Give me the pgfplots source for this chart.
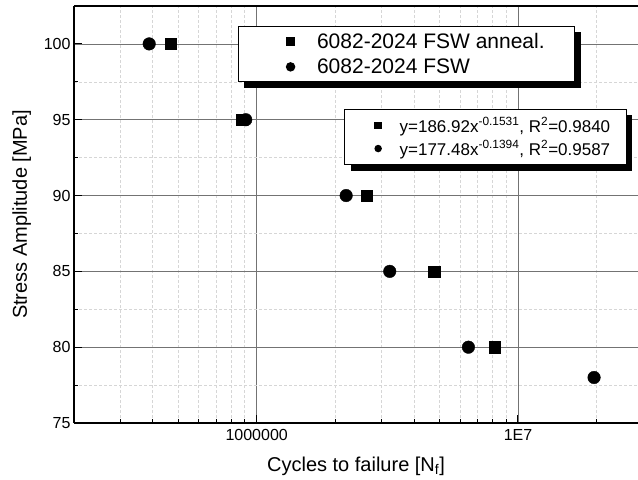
\documentclass[border=0pt]{standalone}
\usepackage{fontspec}
\setmainfont{Liberation Sans}
\usepackage{pgfplots}
\pgfplotsset{compat=1.18}
\usetikzlibrary{shadows}

\pgfplotsset{
  legshadow/.style={drop shadow={shadow xshift=6bp, shadow yshift=-6bp, fill=black, opacity=1}},
}

\begin{document}
\begin{tikzpicture}
\begin{axis}[name=ax, scale only axis, width=564bp, height=417bp,
  xmode=log, xmin=2e5, xmax=2.88e7, ymin=75, ymax=102.5,
  axis x line*=box, axis y line*=left,
  xtick={1e6,1e7}, xticklabels={1000000,1E7},
  minor xtick={3e5,4e5,5e5,6e5,7e5,8e5,9e5,2e6,3e6,4e6,5e6,6e6,7e6,8e6,9e6,2e7},
  ytick={75,80,85,90,95,100}, minor ytick={77.5,82.5,87.5,92.5,97.5},
  grid=both,
  major grid style={black!55, line width=0.7bp},
  minor grid style={black!16, line width=0.6bp, dash pattern=on 3bp off 2bp},
  tick align=inside, major tick length=8bp, minor tick length=4bp,
  xtick pos=bottom, ytick pos=left,
  axis line style={line width=1.2bp},
  tick style={black, line width=1bp},
  ticklabel style={font=\fontsize{16bp}{19bp}\selectfont},
  xticklabel shift=3bp,
  /pgf/number format/assume math mode=true,
  xlabel={Cycles to failure [N\textsubscript{f}]},
  ylabel={Stress Amplitude [MPa]},
  xlabel shift=9bp, ylabel shift=6bp,
  label style={font=\fontsize{20bp}{24bp}\selectfont},
  legend style={at={(0.290,0.953)}, anchor=north west, draw=black, line width=1bp,
    fill=white, legshadow, font=\fontsize{21bp}{25bp}\selectfont,
    inner xsep=28bp, inner ysep=5bp, row sep=5bp},
  legend cell align=left,
  legend image code/.code={\path (0bp,0bp) (48bp,0bp); \draw[#1] plot coordinates {(24bp,0bp)};},
  legend image post style={mark size=4.2bp},
]
\addplot[only marks, mark=square*, mark size=5.6bp, black] coordinates {
(468000,100) (878000,95) (2.64e6,90) (4.78e6,85) (8.16e6,80)};
\addlegendentry{6082-2024 FSW anneal.}
\addplot[only marks, mark=*, mark size=6.3bp, black] coordinates {
(388000,100) (908000,95) (2.20e6,90) (3.23e6,85) (6.46e6,80) (1.955e7,78)};
\addlegendentry{6082-2024 FSW}
\end{axis}
\begin{axis}[at={(ax.south west)}, anchor=south west, scale only axis,
  width=564bp, height=417bp, hide axis, xmin=0, xmax=1, ymin=0, ymax=1,
  legend style={at={(0.479,0.753)}, anchor=north west, draw=black, line width=1bp,
    fill=white, legshadow, font=\fontsize{17bp}{20bp}\selectfont,
    inner xsep=14bp, inner ysep=6bp, row sep=3bp},
  legend cell align=left,
  legend image code/.code={\path (0bp,0bp) (38bp,0bp); \draw[#1] plot coordinates {(19bp,0bp)};},
  legend image post style={mark size=3.2bp},
]
\addlegendimage{only marks, mark=square*, black}
\addlegendentry{y=186.92x\textsuperscript{-0.1531}, R\textsuperscript{2}=0.9840}
\addlegendimage{only marks, mark=*, black}
\addlegendentry{y=177.48x\textsuperscript{-0.1394}, R\textsuperscript{2}=0.9587}
\end{axis}
\pgfresetboundingbox
\path (ax.south west) ++(-74bp,-57bp) rectangle ++(638bp,480bp);
\end{tikzpicture}
\end{document}
